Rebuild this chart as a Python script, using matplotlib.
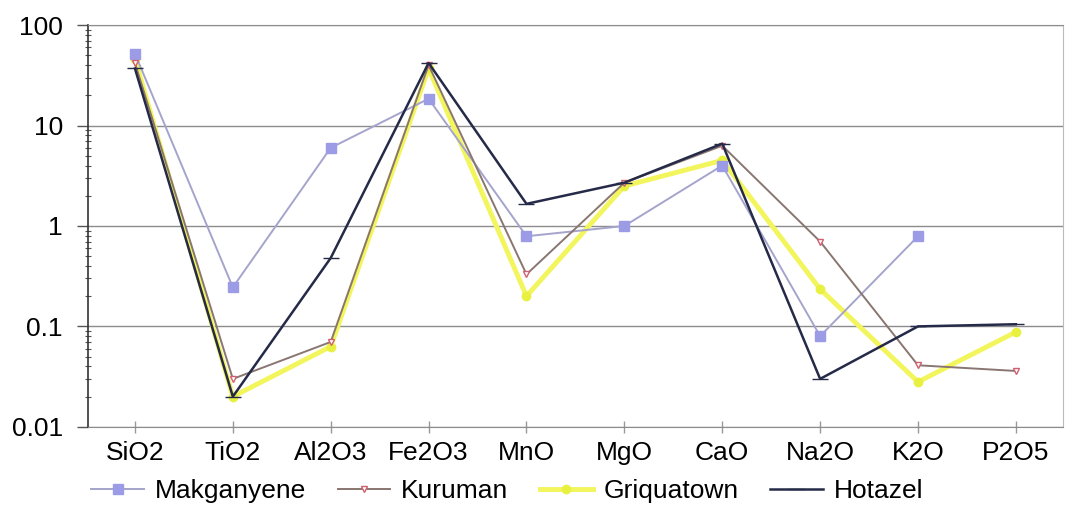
import matplotlib.pyplot as plt
import numpy as np
from matplotlib.ticker import FixedLocator, LogLocator, NullFormatter

plt.rcParams['font.family'] = ['Liberation Sans', 'DejaVu Sans']

# Oxide categories
oxides = ['SiO2', 'TiO2', 'Al2O3', 'Fe2O3', 'MnO', 'MgO', 'CaO', 'Na2O', 'K2O', 'P2O5']

# Values (wt %), None where no point
makganyene = [52, 0.245, 6.0, 18.5, 0.79, 1.0, 4.0, 0.08, 0.79, None]
kuruman = [42, 0.030, 0.070, 40, 0.33, 2.7, 6.3, 0.70, 0.041, 0.036]
griquatown = [46, 0.020, 0.063, 37, 0.20, 2.5, 4.5, 0.235, 0.028, 0.088]
hotazel = [37, 0.020, 0.48, 42, 1.66, 2.7, 6.6, 0.030, 0.10, 0.105]

x = np.arange(len(oxides))


def clean(vals):
    return np.array([np.nan if v is None else v for v in vals], dtype=float)


fig = plt.figure(figsize=(10.65, 5.13), dpi=100)
ax = fig.add_axes([0.0826, 0.168, 0.9154, 0.783])

ax.plot(x, clean(makganyene), color='#a4a4cc', lw=1.4, marker='s', ms=7,
        mfc='#9c9ce6', mec='#9c9ce6', label='Makganyene', zorder=3)
ax.plot(x, clean(kuruman), color='#8a7670', lw=1.4, marker='v', ms=5,
        mfc='white', mec='#d06070', label='Kuruman', zorder=3)
ax.plot(x, clean(griquatown), color='#f2f55c', lw=3.5, marker='o', ms=6,
        mfc='#e8f040', mec='#e8f040', label='Griquatown', zorder=2)
ax.plot(x, clean(hotazel), color='#252a48', lw=1.8, marker='_', ms=12,
        mec='#252a48', label='Hotazel', zorder=4)

ax.set_yscale('log')
ax.set_ylim(0.01, 100)
ax.set_xlim(-0.48, 9.48)

ax.yaxis.set_major_locator(FixedLocator([0.01, 0.1, 1, 10, 100]))
ax.set_yticklabels(['0.01', '0.1', '1', '10', '100'])
ax.yaxis.set_minor_locator(LogLocator(base=10, subs=np.arange(2, 10)))
ax.yaxis.set_minor_formatter(NullFormatter())

ax.set_xticks(x)
ax.set_xticklabels(oxides)

ax.tick_params(axis='y', which='major', direction='out', length=8, width=1,
               color='#555555', labelsize=19, pad=10)
ax.tick_params(axis='y', which='minor', direction='inout', length=5, width=0.8,
               color='#555555')
ax.tick_params(axis='x', which='major', direction='inout', length=8, width=1,
               color='#999999', labelsize=19, pad=6)

ax.grid(True, axis='y', which='major', color='#8c8c8c', lw=1)
ax.set_axisbelow(True)

ax.spines['left'].set_color('#333333')
ax.spines['left'].set_linewidth(1.2)
ax.spines['bottom'].set_color('#8c8c8c')
ax.spines['top'].set_color('#8c8c8c')
ax.spines['right'].set_color('#bbbbbb')

ax.legend(loc='center', bbox_to_anchor=(0.43, -0.16), ncol=4,
          frameon=False, fontsize=19, handlelength=2.0, columnspacing=1.2,
          handletextpad=0.4, borderpad=0.1)

plt.savefig('out.png', dpi=100)
